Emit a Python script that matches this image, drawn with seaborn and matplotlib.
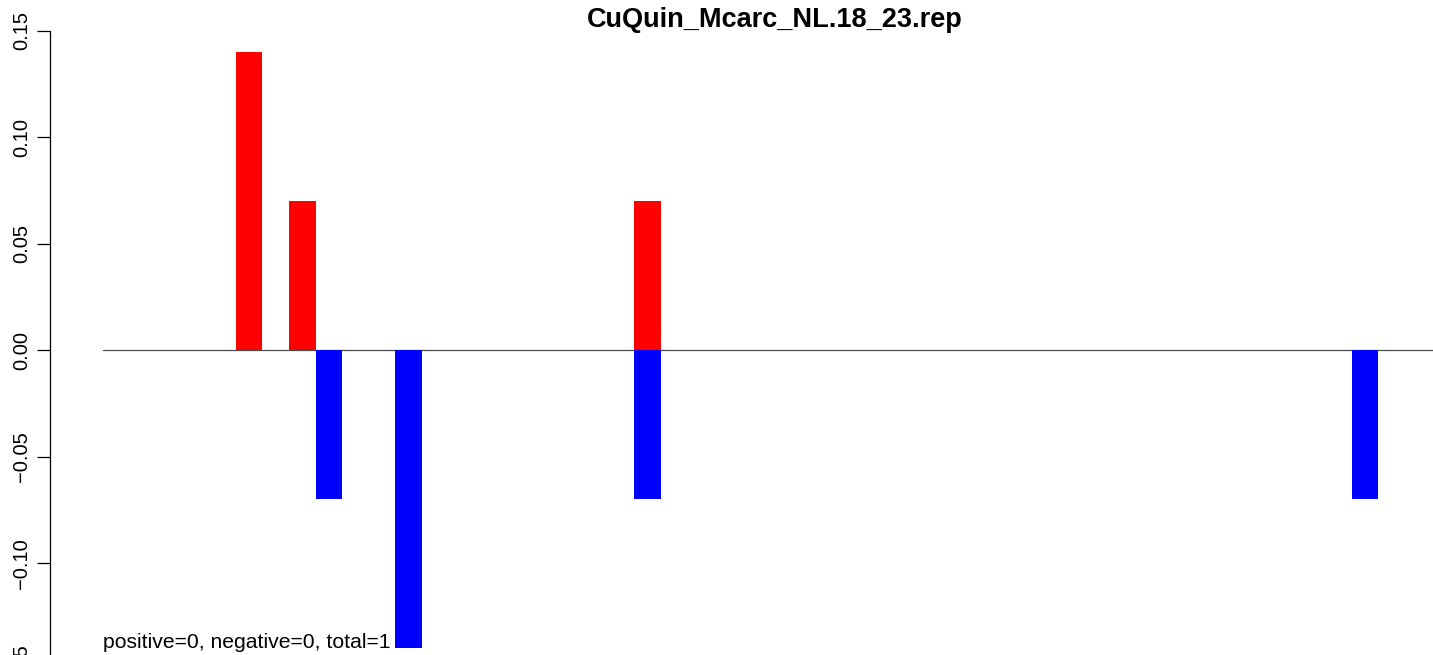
import matplotlib
matplotlib.use("Agg")
import matplotlib.pyplot as plt
import numpy as np
import pandas as pd
import seaborn as sns

# Per-position scores: positive (red) and negative (blue) contributions
pos_sites = [6, 8, 21]
pos_values = [0.14, 0.07, 0.07]
neg_sites = [9, 12, 21, 48]
neg_values = [-0.07, -0.14, -0.07, -0.07]

title = "CuQuin_Mcarc_NL.18_23.rep"
summary = "positive=0, negative=0, total=1"
ytick_values = [-0.15, -0.10, -0.05, 0.00, 0.05, 0.10, 0.15]

df = pd.DataFrame({
    "site": pos_sites + neg_sites,
    "score": pos_values + neg_values,
    "sign": ["positive"] * len(pos_sites) + ["negative"] * len(neg_sites),
})

sns.set_theme(style="white")
plt.rcParams["font.family"] = ["Liberation Sans", "DejaVu Sans"]

fig = plt.figure(figsize=(14.33, 6.55), dpi=100)
# the plotting area runs past the lower edge of the figure
ax = fig.add_axes([0, -0.0548, 1, 1.0548])
ax.set_facecolor("white")

# baseline
ax.plot([0.5, 60], [0, 0], color="#4d4d4d", lw=0.9, zorder=1)

sns.barplot(
    data=df, x="site", y="score", hue="sign",
    palette={"positive": "#ff0000", "negative": "#0000ff"},
    native_scale=True, dodge=False, width=1.0, errorbar=None,
    saturation=1, linewidth=0, legend=False, ax=ax, zorder=2,
)

# spine placement resets the ticks, so it comes before tick styling
for s in ["top", "right", "bottom"]:
    ax.spines[s].set_visible(False)
ax.spines["left"].set_visible(True)
ax.spines["left"].set_position(("data", -1.495))
ax.spines["left"].set_bounds(-0.15, 0.15)
ax.spines["left"].set_color("black")
ax.spines["left"].set_linewidth(0.9)

ax.set_xticks([])
ax.set_yticks(ytick_values,
              labels=[f"{v:.2f}".replace("-", "\u2212") for v in ytick_values])

# view limits are set after the ticks so the ticks do not widen them
ax.set_xlim(-3.376, 50.56)
ax.set_ylim(-0.16, 0.16456)

ax.tick_params(axis="y", direction="out", length=9.4, width=0.9,
               color="black", pad=7.2, left=True, labelrotation=90,
               labelsize=14.5, labelcolor="black")
# vertical tick labels, read bottom to top, centred on their ticks
for tick in ax.yaxis.get_major_ticks():
    tick.label1.set(rotation_mode="anchor", ha="center", va="baseline")

ax.set_xlabel("")
ax.set_ylabel("")
ax.grid(False)

ax.text(0.5, -0.14, summary, ha="left", va="baseline", fontsize=15.2, color="black")

fig.text(775 / 1433, 1 - 27 / 655, title, ha="center", va="baseline",
         fontsize=19.5, fontweight="bold", color="black")

fig.savefig("out.png", dpi=100, facecolor="white")
